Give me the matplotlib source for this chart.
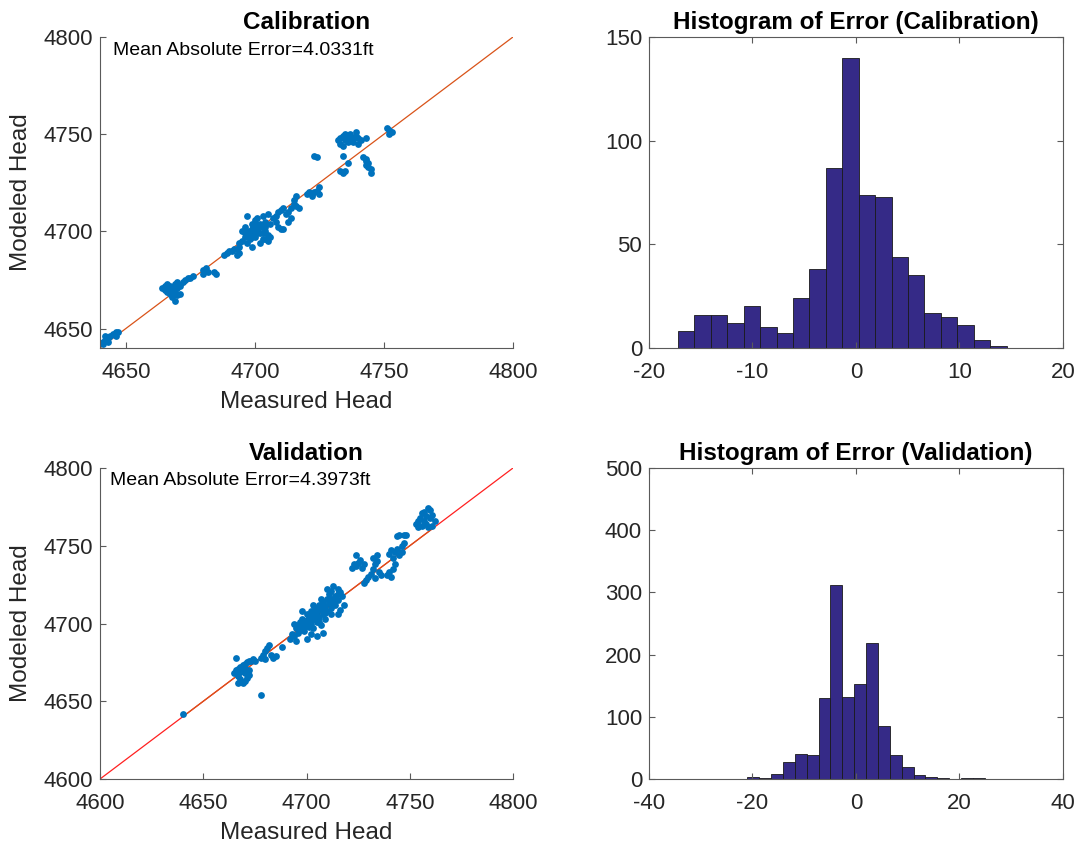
import matplotlib.pyplot as plt
import numpy as np

plt.rcParams['font.family'] = ['Liberation Sans', 'DejaVu Sans']
plt.rcParams['axes.unicode_minus'] = False

# calibration points (measured, modeled)
calib_pts = [
    (4641, 4642), (4642, 4644), (4643, 4645), (4644, 4646), (4645, 4647), (4646, 4648),
    (4647, 4648), (4642, 4646), (4641, 4643), (4643, 4643), (4646, 4646),
    (4664, 4671), (4665, 4672), (4666, 4673), (4667, 4672), (4668, 4671), (4669, 4670),
    (4670, 4671), (4671, 4672), (4672, 4674), (4673, 4675), (4674, 4676), (4675, 4676),
    (4666, 4669), (4667, 4668), (4668, 4666), (4669, 4664), (4670, 4667), (4671, 4668),
    (4665, 4670), (4669, 4673), (4670, 4674), (4676, 4677), (4667, 4670), (4668, 4668),
    (4680, 4680), (4681, 4681), (4682, 4679), (4684, 4679), (4685, 4678), (4680, 4678),
    (4688, 4688), (4689, 4689), (4690, 4690), (4691, 4690), (4692, 4691), (4693, 4691),
    (4694, 4692), (4694, 4689), (4693, 4688),
    (4695, 4695), (4696, 4697), (4697, 4698), (4698, 4700), (4699, 4701), (4700, 4702),
    (4701, 4703), (4702, 4704), (4703, 4702), (4704, 4700), (4705, 4698), (4703, 4696),
    (4702, 4694), (4700, 4697), (4698, 4696), (4697, 4694), (4699, 4704), (4700, 4706),
    (4701, 4707), (4697, 4708), (4695, 4700), (4696, 4702), (4704, 4696), (4705, 4695),
    (4706, 4697), (4702, 4699), (4700, 4699), (4698, 4698), (4699, 4692), (4694, 4694),
    (4703, 4708), (4705, 4709), (4701, 4699), (4704, 4705), (4699, 4697), (4701, 4701),
    (4703, 4699), (4697, 4700), (4702, 4702), (4704, 4702), (4696, 4699), (4700, 4704),
    (4707, 4707), (4708, 4708), (4709, 4710), (4710, 4711), (4711, 4712), (4708, 4705),
    (4709, 4702), (4710, 4701), (4711, 4701), (4706, 4704),
    (4713, 4710), (4714, 4712), (4715, 4714), (4716, 4713), (4717, 4712), (4714, 4707),
    (4713, 4705), (4715, 4716), (4716, 4718), (4712, 4709),
    (4720, 4719), (4721, 4720), (4722, 4719), (4723, 4720), (4722, 4718), (4724, 4721),
    (4725, 4723), (4725, 4719),
    (4723, 4739), (4724, 4738),
    (4732, 4747), (4733, 4748), (4734, 4749), (4735, 4749), (4736, 4748), (4737, 4749),
    (4738, 4748), (4739, 4749), (4740, 4748), (4733, 4745), (4734, 4744), (4736, 4746),
    (4738, 4746), (4740, 4745), (4741, 4747), (4735, 4750), (4737, 4750), (4739, 4751),
    (4743, 4748), (4735, 4747), (4737, 4747),
    (4733, 4731), (4734, 4730), (4735, 4731), (4734, 4739), (4736, 4735),
    (4742, 4738), (4743, 4736), (4743, 4734), (4744, 4733), (4745, 4732), (4744, 4735),
    (4745, 4730), (4743, 4737),
    (4751, 4753), (4752, 4752), (4753, 4751), (4752, 4750),
]

valid_pts = [
    (4640, 4642), (4678, 4654),
    (4665, 4668), (4666, 4670), (4667, 4671), (4668, 4672), (4669, 4673), (4670, 4674),
    (4671, 4675), (4672, 4676), (4673, 4676), (4667, 4666), (4668, 4664), (4669, 4662),
    (4670, 4663), (4671, 4665), (4672, 4667), (4666, 4678), (4667, 4662), (4670, 4668),
    (4674, 4677), (4675, 4676), (4668, 4669), (4670, 4671), (4672, 4670),
    (4678, 4678), (4679, 4680), (4680, 4682), (4681, 4684), (4682, 4686), (4683, 4680),
    (4684, 4678), (4685, 4679), (4680, 4677), (4688, 4685),
    (4692, 4690), (4693, 4693), (4694, 4692), (4695, 4697), (4696, 4694), (4696, 4699),
    (4697, 4696), (4697, 4701), (4698, 4698), (4698, 4703), (4699, 4700), (4699, 4695),
    (4700, 4702), (4700, 4706), (4701, 4698), (4701, 4704), (4702, 4700), (4702, 4708),
    (4703, 4703), (4703, 4697), (4704, 4706), (4704, 4710), (4705, 4701), (4705, 4708),
    (4706, 4704), (4706, 4712), (4707, 4699), (4707, 4709), (4708, 4706), (4708, 4714),
    (4709, 4711), (4709, 4703), (4710, 4716), (4710, 4708), (4711, 4713), (4711, 4719),
    (4712, 4710), (4712, 4721), (4713, 4716), (4713, 4724), (4714, 4718), (4714, 4712),
    (4715, 4722), (4715, 4715), (4716, 4720), (4716, 4709), (4717, 4718), (4715, 4706),
    (4712, 4706), (4708, 4694), (4705, 4692), (4700, 4690), (4695, 4689), (4718, 4712),
    (4710, 4722), (4707, 4716), (4703, 4712), (4698, 4708), (4694, 4700), (4702, 4693),
    (4699, 4698), (4701, 4701), (4703, 4706), (4705, 4705), (4707, 4712), (4709, 4707),
    (4711, 4716), (4713, 4713), (4715, 4719), (4706, 4701), (4704, 4703), (4708, 4710),
    (4722, 4736), (4723, 4738), (4724, 4737), (4725, 4739), (4726, 4741), (4724, 4744),
    (4727, 4736), (4728, 4738),
    (4729, 4728), (4730, 4730), (4731, 4732), (4732, 4735), (4733, 4738), (4734, 4740),
    (4732, 4742), (4735, 4733), (4736, 4731), (4728, 4726), (4733, 4729), (4734, 4744),
    (4739, 4731), (4740, 4733), (4741, 4730), (4742, 4735), (4740, 4745), (4741, 4747),
    (4742, 4742), (4743, 4746), (4744, 4748), (4745, 4744), (4746, 4750), (4747, 4752),
    (4744, 4756), (4745, 4757), (4747, 4757), (4748, 4757), (4746, 4746), (4743, 4738),
    (4753, 4764), (4754, 4766), (4755, 4768), (4756, 4771), (4757, 4766), (4758, 4764),
    (4759, 4762), (4760, 4768), (4761, 4770), (4760, 4773), (4762, 4766), (4758, 4769),
    (4756, 4763), (4754, 4762), (4759, 4774), (4761, 4763), (4757, 4772),
]

calib_measured = np.array([p[0] for p in calib_pts])
calib_modeled = np.array([p[1] for p in calib_pts])
valid_measured = np.array([p[0] for p in valid_pts])
valid_modeled = np.array([p[1] for p in valid_pts])

# histogram counts (20 bins each)
calib_counts = [8, 16, 16, 12, 20, 10, 7, 24, 38, 87, 140, 74, 73, 44, 35, 17, 15, 11, 4, 1]
calib_bin_start, calib_bin_width = -17.19, 1.587
valid_counts = [3, 1, 8, 28, 40, 38, 130, 312, 132, 153, 218, 85, 39, 19, 7, 4, 2, 0, 1, 1]
valid_bin_start, valid_bin_width = -21.0, 2.295

blue = '#0072BD'
orange = '#D95319'
navy = '#352A87'
txt = '#262626'

fig = plt.figure(figsize=(10.78, 8.46), dpi=100)
ax1 = fig.add_axes([0.0928, 0.5887, 0.3831, 0.3676])
ax2 = fig.add_axes([0.6020, 0.5887, 0.3840, 0.3676])
ax3 = fig.add_axes([0.0928, 0.0792, 0.3831, 0.3676])
ax4 = fig.add_axes([0.6020, 0.0792, 0.3840, 0.3676])


def style(ax, box):
    for s in ['top', 'right']:
        ax.spines[s].set_visible(box)
    for s in ax.spines.values():
        s.set_color('#5a5a5a')
        s.set_linewidth(0.8)
    ax.tick_params(direction='in', length=4, width=0.8, color='#5a5a5a',
                   labelsize=16, labelcolor=txt, top=box, right=box)
    ax.tick_params(axis='x', pad=10)
    ax.tick_params(axis='y', pad=5)


# calibration scatter
ax1.plot([4640, 4800], [4640, 4800], color=orange, lw=0.9, zorder=1)
ax1.scatter(calib_measured, calib_modeled, s=24, color=blue, linewidths=0, zorder=2)
ax1.set_xlim(4640, 4800)
ax1.set_ylim(4640, 4800)
ax1.set_xticks([4650, 4700, 4750, 4800])
ax1.set_yticks([4650, 4700, 4750, 4800])
ax1.set_xlabel('Measured Head', fontsize=17.5, color=txt, labelpad=6)
ax1.set_ylabel('Modeled Head', fontsize=17.5, color=txt, labelpad=8)
ax1.set_title('Calibration', fontsize=17.5, fontweight='bold', pad=6)
ax1.text(4645, 4793, 'Mean Absolute Error=4.0331ft', fontsize=14, va='center')
style(ax1, False)

# calibration histogram
ax2.bar(calib_bin_start + calib_bin_width * np.arange(len(calib_counts)), calib_counts,
        width=calib_bin_width, align='edge', color=navy, edgecolor='#1a1a1a', linewidth=0.6)
ax2.set_xlim(-20, 20)
ax2.set_ylim(0, 150)
ax2.set_xticks([-20, -10, 0, 10, 20])
ax2.set_yticks([0, 50, 100, 150])
ax2.set_title('Histogram of Error (Calibration)', fontsize=17.5, fontweight='bold', pad=6)
style(ax2, True)

# validation scatter
ax3.plot([4600, 4800], [4600, 4800], color='#FF2020', lw=0.9, zorder=1)
ax3.plot([valid_measured.min(), valid_measured.max()],
         [valid_measured.min(), valid_measured.max()], color=orange, lw=0.9, zorder=1)
ax3.scatter(valid_measured, valid_modeled, s=24, color=blue, linewidths=0, zorder=2)
ax3.set_xlim(4600, 4800)
ax3.set_ylim(4600, 4800)
ax3.set_xticks([4600, 4650, 4700, 4750, 4800])
ax3.set_yticks([4600, 4650, 4700, 4750, 4800])
ax3.set_xlabel('Measured Head', fontsize=17.5, color=txt, labelpad=6)
ax3.set_ylabel('Modeled Head', fontsize=17.5, color=txt, labelpad=8)
ax3.set_title('Validation', fontsize=17.5, fontweight='bold', pad=6)
ax3.text(4605, 4792, 'Mean Absolute Error=4.3973ft', fontsize=14, va='center')
style(ax3, False)

# validation histogram
ax4.bar(valid_bin_start + valid_bin_width * np.arange(len(valid_counts)), valid_counts,
        width=valid_bin_width, align='edge', color=navy, edgecolor='#1a1a1a', linewidth=0.6)
ax4.set_xlim(-40, 40)
ax4.set_ylim(0, 500)
ax4.set_xticks([-40, -20, 0, 20, 40])
ax4.set_yticks([0, 100, 200, 300, 400, 500])
ax4.set_title('Histogram of Error (Validation)', fontsize=17.5, fontweight='bold', pad=6)
style(ax4, True)

fig.savefig('out.png', dpi=100)
